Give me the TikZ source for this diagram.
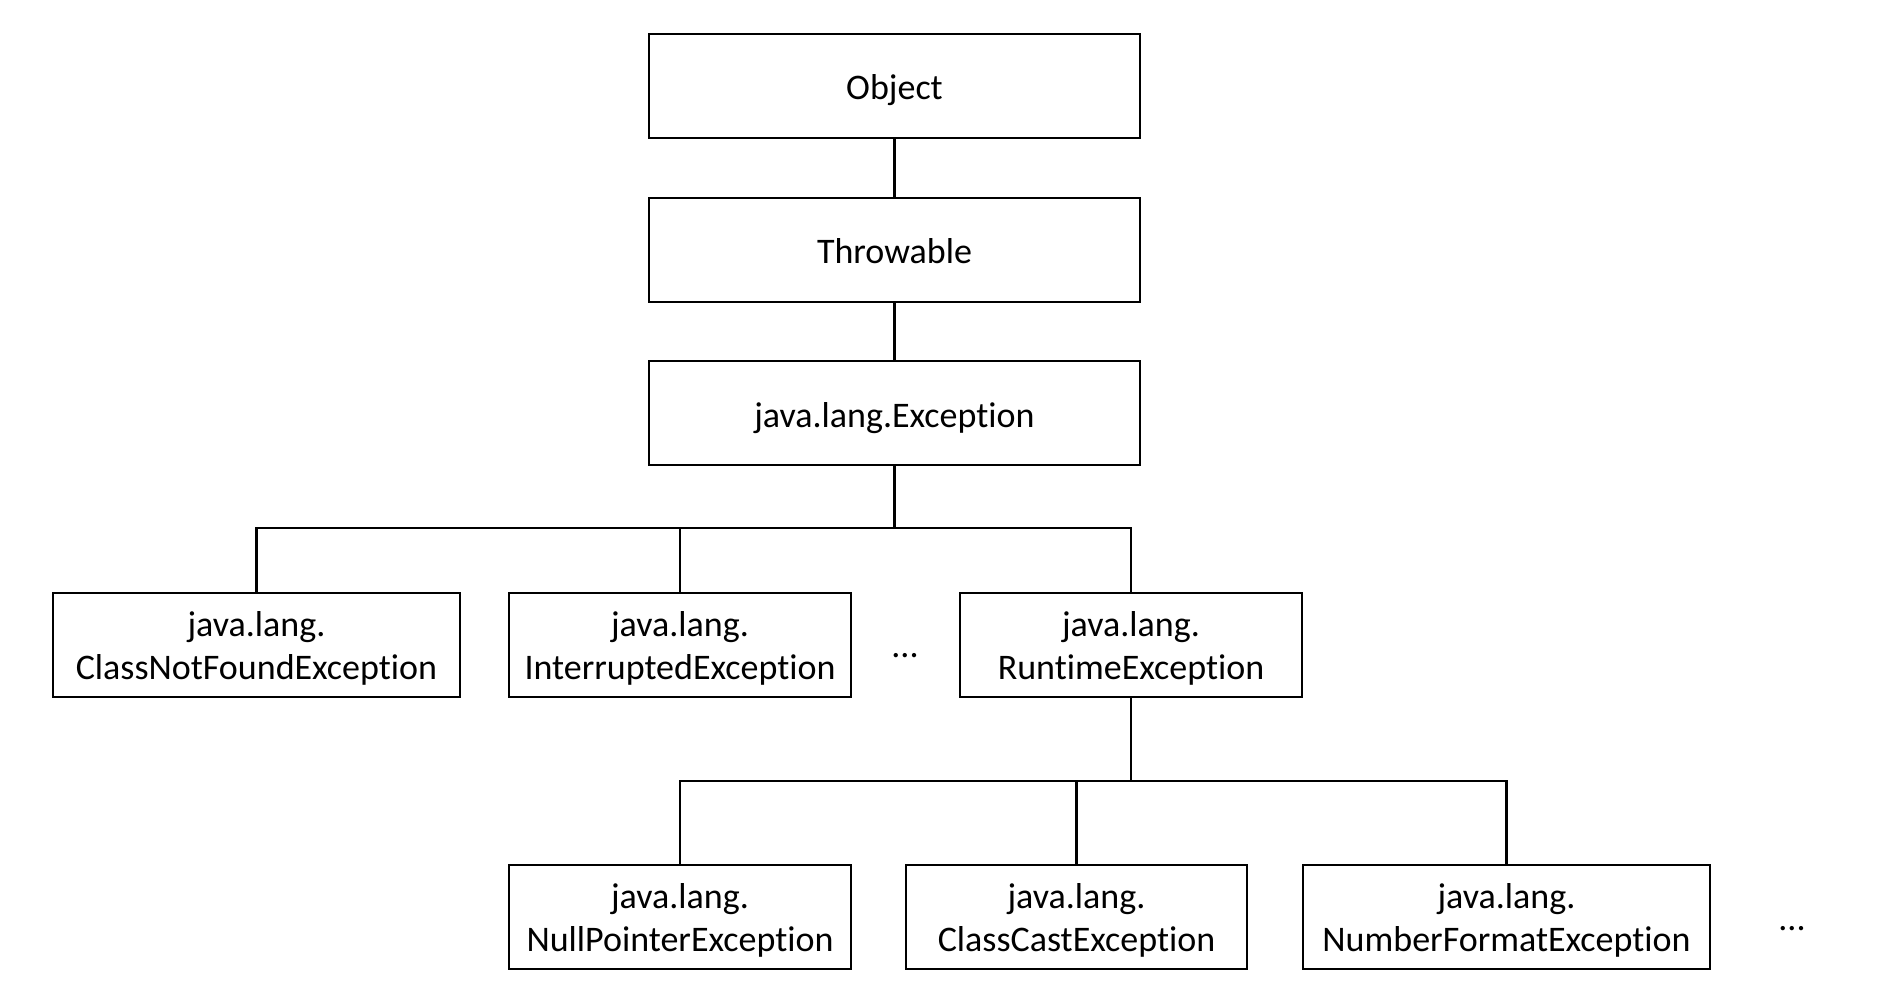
\documentclass[tikz,border=0pt]{standalone}
\usepackage{fontspec}
\setmainfont{Carlito}[Ligatures=NoCommon]
\usetikzlibrary{positioning}
\tikzset{
    cls/.style={rectangle, draw, line width=1pt, minimum height=52pt, align=center, inner sep=0pt, font=\fontsize{18}{21.5}\selectfont},
    oneline/.style={cls, text height=17.8pt, text depth=4pt},
    twoline/.style={cls, text height=38.7pt, text depth=4pt},
    link/.style={line width=1.3pt},
    more/.style={anchor=base, inner sep=0pt, font=\fontsize{18}{21.5}\selectfont}
}

\begin{document}
\begin{tikzpicture}[x=0.5pt, y=-0.5pt]
\fill[white] (0,0) rectangle (1882,993);
\useasboundingbox (0,0) rectangle (1882,993);

% Top of the hierarchy
\node[oneline, minimum width=245.5pt] (object) at (894.5,86) {Object};
\node[oneline, minimum width=245.5pt, below=28.8pt of object] (throwable) {Throwable};
\node[oneline, minimum width=245.5pt, below=28.8pt of throwable] (exception) {java.lang.Exception};

% Second level
\node[twoline, minimum width=203.5pt] (notfound) at (256.5,644.5) {java.lang.\\ClassNotFoundException};
\node[twoline, minimum width=171pt] (interrupted) at (680,644.5) {java.lang.\\InterruptedException};
\node[more] (dotsmid) at (905,657) {...};
\node[twoline, minimum width=171pt] (runtime) at (1131,644.5) {java.lang.\\RuntimeException};

% Third level
\node[twoline, minimum width=171pt] (nullptr) at (680,916.5) {java.lang.\\NullPointerException};
\node[twoline, minimum width=170.5pt] (classcast) at (1076.5,916.5) {java.lang.\\ClassCastException};
\node[twoline, minimum width=203.5pt] (numfmt) at (1506.5,916.5) {java.lang.\\NumberFormatException};
\node[more] (dotsend) at (1792,930) {...};

% Connectors
\coordinate (fork1) at (894.5,528);
\coordinate (fork2) at (1131,781);
\draw[link] (object) -- (throwable);
\draw[link] (throwable) -- (exception);
\draw[link] (exception.south) -- (fork1);
\foreach \sub in {notfound, interrupted, runtime}
    \draw[link] (fork1) -| (\sub.north);
\draw[link] (runtime.south) -- (fork2);
\foreach \sub in {nullptr, classcast, numfmt}
    \draw[link] (fork2) -| (\sub.north);

\end{tikzpicture}
\end{document}
